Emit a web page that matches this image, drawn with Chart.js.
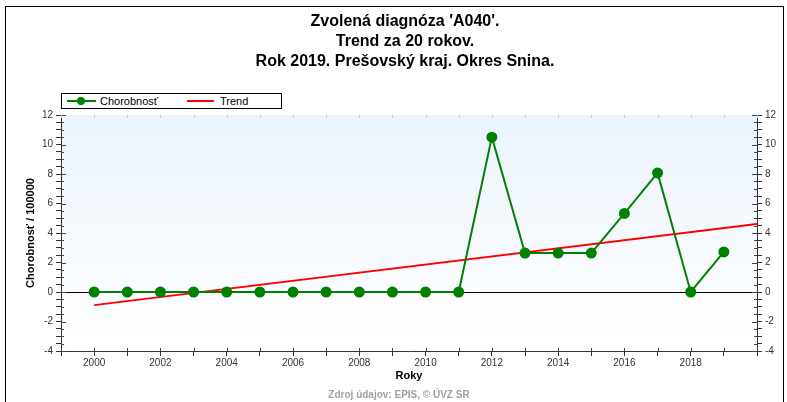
<!DOCTYPE html>
<html>
<head>
<meta charset="utf-8">
<script src="https://cdn.jsdelivr.net/npm/chart.js@4.4.0/dist/chart.umd.min.js"></script>
<style>
  body { margin: 0; background: #fff; font-family: "Liberation Sans", Arial, sans-serif; }
  #wrap { position: relative; width: 787px; height: 402px; overflow: hidden; }
  #frame { position: absolute; left: 5px; top: 6px; width: 777px; height: 420px; border: 1px solid #000; }
  #title { position: absolute; left: 0; top: 11px; width: 810px; text-align: center; font-weight: bold; font-size: 16px; line-height: 20px; color: #000; }
  #legend { position: absolute; left: 61px; top: 93px; width: 219px; height: 14px; border: 1px solid #000; background: #fff; font-size: 11px; line-height: 14px; color: #000; }
  #legend span { position: absolute; top: 0; }
  #src { position: absolute; left: 0; top: 389px; width: 798px; text-align: center; font-weight: bold; font-size: 10px; color: #a0a0a0; }
  canvas { position: absolute; left: 0; top: 0; }
</style>
</head>
<body>
<div id="wrap">
  <div id="frame"></div>
  <canvas id="myChart" width="787" height="402"></canvas>
  <div id="title">Zvolená diagnóza 'A040'.<br>Trend za 20 rokov.<br>Rok 2019. Prešovský kraj. Okres Snina.</div>
  <div id="legend">
    <svg width="40" height="14" style="position:absolute;left:4px;top:0"><line x1="1" y1="7" x2="30" y2="7" stroke="#008000" stroke-width="2"/><circle cx="15" cy="7" r="4" fill="#008000"/></svg>
    <span style="left:38px">Chorobnosť</span>
    <svg width="30" height="14" style="position:absolute;left:125px;top:0"><line x1="0" y1="7" x2="27" y2="7" stroke="#ff0000" stroke-width="2"/></svg>
    <span style="left:158px">Trend</span>
  </div>
  <div id="src">Zdroj údajov: EPIS, © ÚVZ SR</div>
</div>
<script>
// roky a hodnoty chorobnosti (na 100000)
var roky = [2000, 2001, 2002, 2003, 2004, 2005, 2006, 2007, 2008, 2009,
            2010, 2011, 2012, 2013, 2014, 2015, 2016, 2017, 2018, 2019];
var chorobnost = [0, 0, 0, 0, 0, 0, 0, 0, 0, 0,
                  0, 0, 10.5, 2.64, 2.64, 2.64, 5.33, 8.07, 0, 2.72];

// trend - koncove body odcitane z grafu
var trendRoky = [2000, 2020];
var trendHodnoty = [-0.89, 4.61];

var yMin = -4, yMax = 12;
var xMin = 1999, xMax = 2020;

var tickFont = { family: "'Liberation Sans', Arial, sans-serif", size: 10 };

// pozadie plochy grafu + nulova ciara + vnutorne ciarky osi
var plotBg = {
  id: 'plotBg',
  beforeDraw: function(chart) {
    var ctx = chart.ctx, a = chart.chartArea;
    var g = ctx.createLinearGradient(0, a.top, 0, a.bottom);
    g.addColorStop(0, '#ebf4fd');
    g.addColorStop(1, '#ffffff');
    ctx.save();
    ctx.fillStyle = g;
    ctx.fillRect(a.left, a.top, a.right - a.left, a.bottom - a.top);
    ctx.restore();
  },
  beforeDatasetsDraw: function(chart) {
    var ctx = chart.ctx, a = chart.chartArea;
    var y = chart.scales.y, x = chart.scales.x;
    ctx.save();
    // nulova ciara
    var y0 = Math.round(y.getPixelForValue(0)) + 0.5;
    ctx.strokeStyle = '#000';
    ctx.lineWidth = 1;
    ctx.beginPath();
    ctx.moveTo(a.left, y0);
    ctx.lineTo(a.right, y0);
    ctx.stroke();
    // ciarky dovnutra
    ctx.strokeStyle = '#444';
    ctx.beginPath();
    y.ticks.forEach(function(t) {
      var p = Math.round(y.getPixelForValue(t.value)) + 0.5;
      var len = (t.value % 2 === 0) ? 5 : 3;
      ctx.moveTo(a.left, p); ctx.lineTo(a.left + len, p);
      ctx.moveTo(a.right, p); ctx.lineTo(a.right - len, p);
    });
    x.ticks.forEach(function(t) {
      var p = Math.round(x.getPixelForValue(t.value)) + 0.5;
      ctx.moveTo(p, a.bottom); ctx.lineTo(p, a.bottom - 3);
    });
    ctx.stroke();
    ctx.strokeStyle = '#c8c8c8';
    ctx.beginPath();
    x.ticks.forEach(function(t) {
      var p = Math.round(x.getPixelForValue(t.value)) + 0.5;
      ctx.moveTo(p, a.top); ctx.lineTo(p, a.top + 3);
    });
    ctx.stroke();
    ctx.restore();
  }
};

var ctx = document.getElementById('myChart').getContext('2d');
var myChart = new Chart(ctx, {
  type: 'line',
  data: {
    datasets: [{
      label: 'Chorobnosť',
      data: roky.map(function(r, i) { return { x: r, y: chorobnost[i] }; }),
      borderColor: '#008000',
      backgroundColor: '#008000',
      borderWidth: 2,
      pointRadius: 4.5,
      pointHoverRadius: 4.5,
      tension: 0
    }, {
      label: 'Trend',
      data: trendRoky.map(function(r, i) { return { x: r, y: trendHodnoty[i] }; }),
      borderColor: '#ff0000',
      borderWidth: 2,
      pointRadius: 0,
      tension: 0
    }]
  },
  options: {
    responsive: false,
    animation: false,
    layout: { padding: { top: 115, left: 0, right: 0, bottom: 0 } },
    plugins: {
      legend: { display: false },
      title: { display: false },
      tooltip: { enabled: false }
    },
    scales: {
      x: {
        type: 'linear',
        min: xMin, max: xMax,
        afterFit: function(s) { s.height = 51; },
        border: { color: '#333' },
        grid: { drawOnChartArea: false, tickLength: 5, color: '#333' },
        ticks: {
          stepSize: 1, autoSkip: false, maxRotation: 0, padding: 1,
          color: '#333', font: tickFont,
          callback: function(v) { return (v % 2 === 0 && v >= 2000 && v <= 2018) ? String(v) : ''; }
        },
        title: {
          display: true, text: 'Roky', color: '#000',
          font: { family: "'Liberation Sans', Arial, sans-serif", size: 11, weight: 'bold' },
          padding: { top: 0, bottom: 19 }
        }
      },
      y: {
        position: 'left',
        min: yMin, max: yMax,
        afterFit: function(s) { s.width = 61; },
        border: { color: '#333' },
        grid: { drawOnChartArea: false, tickLength: 5, color: '#333' },
        ticks: {
          stepSize: 0.5, autoSkip: false, padding: 3,
          color: '#333', font: tickFont,
          callback: function(v) { return (v % 2 === 0) ? String(v) : ''; }
        },
        title: {
          display: true, text: 'Chorobnosť / 100000', color: '#000',
          font: { family: "'Liberation Sans', Arial, sans-serif", size: 11, weight: 'bold' },
          padding: { top: 24, bottom: 0 }
        }
      },
      y2: {
        position: 'right',
        min: yMin, max: yMax,
        afterFit: function(s) { s.width = 30; },
        border: { color: '#333' },
        grid: { drawOnChartArea: false, tickLength: 5, color: '#333' },
        ticks: {
          stepSize: 0.5, autoSkip: false, padding: 3,
          color: '#333', font: tickFont,
          callback: function(v) { return (v % 2 === 0) ? String(v) : ''; }
        }
      }
    }
  },
  plugins: [plotBg]
});
</script>
</body>
</html>
